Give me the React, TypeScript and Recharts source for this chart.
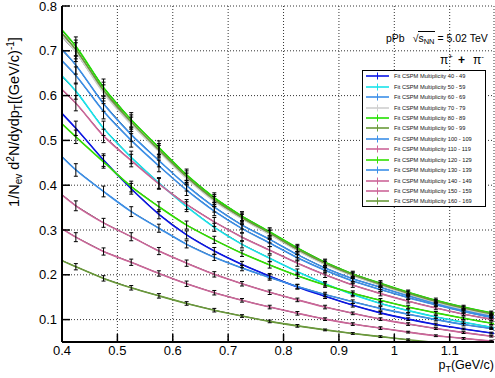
import React from 'react';
import { ComposedChart, Line, XAxis, YAxis, CartesianGrid, ErrorBar, Legend } from 'recharts';

const FONT = '"Liberation Sans", Arial, Helvetica, sans-serif';

// bin centres (GeV/c); first and last lie just outside the drawn range
const pT = [0.375, 0.425, 0.475, 0.525, 0.575, 0.625, 0.675, 0.725, 0.775, 0.825, 0.875, 0.925, 0.975, 1.025, 1.075, 1.125, 1.175, 1.225];

const xMajorTicks = [0.4, 0.5, 0.6, 0.7, 0.8, 0.9, 1.0, 1.1];
const yMajorTicks = [0.1, 0.2, 0.3, 0.4, 0.5, 0.6, 0.7, 0.8];
const xMinorTicks = [0.42, 0.44, 0.46, 0.48, 0.52, 0.54, 0.56, 0.58, 0.62, 0.64, 0.66, 0.68, 0.72, 0.74, 0.76, 0.78, 0.82, 0.84, 0.86, 0.88, 0.92, 0.94, 0.96, 0.98, 1.02, 1.04, 1.06, 1.08, 1.12, 1.14, 1.16];
const yMinorTicks = [0.06, 0.08, 0.12, 0.14, 0.16, 0.18, 0.22, 0.24, 0.26, 0.28, 0.32, 0.34, 0.36, 0.38, 0.42, 0.44, 0.46, 0.48, 0.52, 0.54, 0.56, 0.58, 0.62, 0.64, 0.66, 0.68, 0.72, 0.74, 0.76, 0.78];

const mult40_49 = [0.592, 0.527, 0.456, 0.392, 0.335, 0.289, 0.253, 0.223, 0.197, 0.173, 0.152, 0.132, 0.115, 0.101, 0.089, 0.079, 0.070, 0.062];
const err40_49 = [null, 0.016, 0.014, 0.012, 0.010, 0.009, 0.008, 0.007, 0.006, 0.005, 0.005, 0.004, 0.003, 0.003, 0.003, 0.002, 0.002, null];
const mult50_59 = [0.675, 0.610, 0.527, 0.462, 0.405, 0.352, 0.306, 0.268, 0.237, 0.207, 0.180, 0.156, 0.136, 0.120, 0.106, 0.094, 0.083, 0.074];
const err50_59 = [null, 0.018, 0.016, 0.014, 0.012, 0.011, 0.009, 0.008, 0.007, 0.006, 0.005, 0.005, 0.004, 0.004, 0.003, 0.003, 0.003, null];
const mult60_69 = [0.735, 0.668, 0.582, 0.513, 0.455, 0.399, 0.351, 0.311, 0.279, 0.245, 0.215, 0.191, 0.172, 0.153, 0.136, 0.121, 0.108, 0.097];
const err60_69 = [null, 0.020, 0.017, 0.015, 0.014, 0.012, 0.011, 0.009, 0.008, 0.007, 0.006, 0.006, 0.005, 0.005, 0.004, 0.004, 0.003, null];
const mult70_79 = [0.765, 0.697, 0.606, 0.536, 0.475, 0.415, 0.364, 0.325, 0.290, 0.254, 0.223, 0.198, 0.177, 0.157, 0.139, 0.124, 0.111, 0.100];
const err70_79 = [null, 0.021, 0.018, 0.016, 0.014, 0.012, 0.011, 0.010, 0.009, 0.008, 0.007, 0.006, 0.005, 0.005, 0.004, 0.004, 0.003, null];
const mult80_89 = [0.780, 0.710, 0.618, 0.546, 0.484, 0.423, 0.372, 0.331, 0.296, 0.260, 0.228, 0.202, 0.181, 0.161, 0.143, 0.128, 0.115, 0.104];
const err80_89 = [null, 0.021, 0.019, 0.016, 0.015, 0.013, 0.011, 0.010, 0.009, 0.008, 0.007, 0.006, 0.006, 0.005, 0.005, 0.004, 0.004, null];
const mult90_99 = [0.772, 0.703, 0.612, 0.541, 0.479, 0.419, 0.368, 0.328, 0.293, 0.257, 0.226, 0.200, 0.179, 0.159, 0.141, 0.126, 0.113, 0.102];
const err90_99 = [null, 0.021, 0.018, 0.016, 0.014, 0.013, 0.011, 0.010, 0.009, 0.008, 0.007, 0.006, 0.005, 0.005, 0.004, 0.004, 0.004, null];
const mult100_109 = [0.709, 0.645, 0.565, 0.500, 0.443, 0.389, 0.342, 0.303, 0.271, 0.238, 0.210, 0.186, 0.167, 0.149, 0.133, 0.118, 0.105, 0.094];
const err100_109 = [null, 0.019, 0.017, 0.015, 0.013, 0.012, 0.010, 0.009, 0.008, 0.007, 0.006, 0.006, 0.005, 0.004, 0.004, 0.004, 0.003, null];
const mult110_119 = [0.642, 0.583, 0.510, 0.455, 0.403, 0.357, 0.318, 0.284, 0.255, 0.226, 0.200, 0.177, 0.158, 0.141, 0.126, 0.112, 0.101, 0.091];
const err110_119 = [null, 0.017, 0.015, 0.014, 0.012, 0.011, 0.010, 0.009, 0.008, 0.007, 0.006, 0.005, 0.005, 0.004, 0.004, 0.003, 0.003, null];
const mult120_129 = [0.566, 0.508, 0.452, 0.397, 0.352, 0.311, 0.278, 0.248, 0.222, 0.198, 0.177, 0.159, 0.143, 0.128, 0.115, 0.103, 0.092, 0.083];
const err120_129 = [null, 0.015, 0.014, 0.012, 0.011, 0.009, 0.008, 0.007, 0.007, 0.006, 0.005, 0.005, 0.004, 0.004, 0.003, 0.003, 0.003, null];
const mult130_139 = [0.494, 0.434, 0.386, 0.341, 0.304, 0.268, 0.239, 0.215, 0.194, 0.174, 0.156, 0.140, 0.125, 0.112, 0.100, 0.089, 0.080, 0.072];
const err130_139 = [null, 0.014, 0.012, 0.011, 0.009, 0.008, 0.007, 0.006, 0.006, 0.005, 0.005, 0.004, 0.004, 0.003, 0.003, 0.003, 0.002, null];
const mult140_149 = [0.404, 0.354, 0.316, 0.285, 0.253, 0.226, 0.201, 0.180, 0.161, 0.144, 0.128, 0.114, 0.101, 0.090, 0.080, 0.071, 0.063, 0.056];
const err140_149 = [null, 0.011, 0.010, 0.009, 0.008, 0.007, 0.006, 0.005, 0.005, 0.004, 0.004, 0.003, 0.003, 0.003, 0.002, 0.002, 0.002, null];
const mult150_159 = [0.322, 0.284, 0.252, 0.228, 0.203, 0.180, 0.160, 0.143, 0.128, 0.114, 0.101, 0.090, 0.081, 0.072, 0.064, 0.058, 0.052, 0.047];
const err150_159 = [null, 0.010, 0.008, 0.007, 0.006, 0.006, 0.005, 0.004, 0.004, 0.004, 0.003, 0.003, 0.003, 0.002, 0.002, 0.002, 0.002, null];
const mult160_169 = [0.246, 0.218, 0.192, 0.171, 0.153, 0.136, 0.121, 0.108, 0.096, 0.086, 0.077, 0.069, 0.062, 0.055, null, null, null, null];
const err160_169 = [null, 0.007, 0.006, 0.005, 0.005, 0.004, 0.004, 0.003, 0.003, 0.003, 0.002, 0.002, 0.002, 0.002, null, null, null, null];
const fit160_169_tail = [null, null, null, null, null, null, null, null, null, null, null, null, 0.062, 0.055, 0.049, 0.044, 0.039, 0.035];

const SERIES = [
  { key: 'm40', label: 'Fit CSPM Multiplicity 40 - 49', color: '#0b16e6', values: mult40_49, errors: err40_49 },
  { key: 'm50', label: 'Fit CSPM Multiplicity 50 - 59', color: '#19e3ea', values: mult50_59, errors: err50_59 },
  { key: 'm60', label: 'Fit CSPM Multiplicity 60 - 69', color: '#3b8fe8', values: mult60_69, errors: err60_69 },
  { key: 'm70', label: 'Fit CSPM Multiplicity 70 - 79', color: '#cfcfcf', values: mult70_79, errors: err70_79 },
  { key: 'm80', label: 'Fit CSPM Multiplicity 80 - 89', color: '#22e000', values: mult80_89, errors: err80_89 },
  { key: 'm90', label: 'Fit CSPM Multiplicity 90 - 99', color: '#6a9a3a', values: mult90_99, errors: err90_99 },
  { key: 'm100', label: 'Fit CSPM Multiplicity 100 - 109', color: '#3b8fe8', values: mult100_109, errors: err100_109 },
  { key: 'm110', label: 'Fit CSPM Multiplicity 110 - 119', color: '#cc6699', values: mult110_119, errors: err110_119 },
  { key: 'm120', label: 'Fit CSPM Multiplicity 120 - 129', color: '#33e000', values: mult120_129, errors: err120_129 },
  { key: 'm130', label: 'Fit CSPM Multiplicity 130 - 139', color: '#3b8fe8', values: mult130_139, errors: err130_139 },
  { key: 'm140', label: 'Fit CSPM Multiplicity 140 - 149', color: '#cc6699', values: mult140_149, errors: err140_149 },
  { key: 'm150', label: 'Fit CSPM Multiplicity 150 - 159', color: '#cc6699', values: mult150_159, errors: err150_159 },
  { key: 'm160', label: 'Fit CSPM Multiplicity 160 - 169', color: '#6a9a3a', values: mult160_169, errors: err160_169 },
];

function s160Fit(i: number) {
  return mult160_169[i] != null ? mult160_169[i] : fit160_169_tail[i];
}

const rows = pT.map((x, i) => {
  const r: any = { pT: x };
  SERIES.forEach((s) => {
    r[s.key] = s.values[i];
    r[s.key + '_e'] = s.errors[i];
  });
  r.m160fit = s160Fit(i);
  return r;
});

const YTitle = () => (
  <text transform="rotate(-90, 19, 122)" x={19} y={122} textAnchor="middle" fontFamily={FONT} fontSize={14.5} fill="#000">
    <tspan>1/N</tspan>
    <tspan dy={3} fontSize={10}>ev</tspan>
    <tspan dy={-3}> d</tspan>
    <tspan dy={-5} fontSize={10}>2</tspan>
    <tspan dy={5}>N/dydp</tspan>
    <tspan dy={3} fontSize={10}>T</tspan>
    <tspan dy={-3}>[(GeV/c)</tspan>
    <tspan dy={-5} fontSize={10}>-1</tspan>
    <tspan dy={5}>]</tspan>
  </text>
);

const XTitle = () => (
  <text x={494} y={369} textAnchor="end" fontFamily={FONT} fontSize={12.5} fill="#000">
    <tspan>p</tspan>
    <tspan dy={3} fontSize={9}>T</tspan>
    <tspan dy={-3}>(GeV/c)</tspan>
  </text>
);

const LegendBox = () => (
  <div style={{ width: 124, height: 137, boxSizing: 'border-box', border: '1px solid #000', background: '#fff', fontFamily: FONT, fontSize: 5.7, color: '#111' }}>
    {SERIES.map((s) => (
      <div key={s.key} style={{ display: 'flex', alignItems: 'center', height: 10.45 }}>
        <svg width={26} height={8} style={{ marginLeft: 2, flex: 'none' }}>
          <line x1={1} x2={24} y1={4} y2={4} stroke={s.color} strokeWidth={1.6} />
          <line x1={12.5} x2={12.5} y1={0.5} y2={7.5} stroke={s.color} strokeWidth={1} />
        </svg>
        <span style={{ marginLeft: 3, whiteSpace: 'nowrap' }}>{s.label}</span>
      </div>
    ))}
  </div>
);

const tickStyle = { fill: '#000', fontSize: 13, fontFamily: FONT };

export default function App() {
  return (
    <div style={{ position: 'absolute', left: 0, top: 0, width: 495, height: 378, background: '#fff', fontFamily: FONT, overflow: 'hidden' }}>
      <ComposedChart width={495} height={378} data={rows} margin={{ top: 6, right: 1, bottom: 0, left: 0 }}>
        <CartesianGrid stroke="#333" strokeDasharray="1 2" strokeWidth={1} />
        <XAxis
          dataKey="pT"
          type="number"
          domain={[0.4, 1.18]}
          allowDataOverflow
          ticks={xMajorTicks}
          interval={0}
          height={36}
          tickSize={-8}
          tickMargin={12}
          tick={tickStyle}
          tickFormatter={(v: number) => String(v)}
          axisLine={{ stroke: '#000', strokeWidth: 2 }}
          tickLine={{ stroke: '#000', strokeWidth: 1.5 }}
          label={XTitle}
        />
        <XAxis
          xAxisId="minor"
          dataKey="pT"
          type="number"
          domain={[0.4, 1.18]}
          allowDataOverflow
          ticks={xMinorTicks}
          interval={0}
          mirror
          height={0}
          tickSize={4}
          tickFormatter={() => ''}
          axisLine={false}
          tickLine={{ stroke: '#000', strokeWidth: 1.2 }}
        />
        <YAxis
          type="number"
          domain={[0.05, 0.8]}
          allowDataOverflow
          ticks={yMajorTicks}
          interval={0}
          width={62}
          tickSize={-8}
          tickMargin={13}
          tick={tickStyle}
          tickFormatter={(v: number) => String(v)}
          axisLine={{ stroke: '#000', strokeWidth: 2 }}
          tickLine={{ stroke: '#000', strokeWidth: 1.5 }}
          label={YTitle}
        />
        <YAxis
          yAxisId="minor"
          type="number"
          domain={[0.05, 0.8]}
          allowDataOverflow
          ticks={yMinorTicks}
          interval={0}
          mirror
          width={0}
          tickSize={4}
          tickFormatter={() => ''}
          axisLine={false}
          tickLine={{ stroke: '#000', strokeWidth: 1.2 }}
        />
        <Legend
          layout="vertical"
          align="center"
          verticalAlign="middle"
          content={LegendBox}
          wrapperStyle={{ left: 362, top: 70, width: 124, height: 137 }}
        />
        {SERIES.map((s) => (
          <Line
            key={s.key + '-data'}
            dataKey={s.key}
            type="linear"
            stroke="#000"
            strokeWidth={0.8}
            dot={false}
            activeDot={false}
            legendType="none"
            isAnimationActive={false}
            connectNulls
          />
        ))}
        {SERIES.map((s) => (
          <Line
            key={s.key + '-fit'}
            dataKey={s.key === 'm160' ? 'm160fit' : s.key}
            type="monotone"
            stroke={s.color}
            strokeWidth={1.6}
            dot={false}
            activeDot={false}
            isAnimationActive={false}
            connectNulls
          />
        ))}
        {SERIES.map((s) => (
          <Line
            key={s.key + '-err'}
            dataKey={s.key}
            type="linear"
            stroke="none"
            dot={false}
            activeDot={false}
            legendType="none"
            isAnimationActive={false}
          >
            <ErrorBar dataKey={s.key + '_e'} direction="y" width={2} stroke="#000" strokeWidth={1} />
          </Line>
        ))}
      </ComposedChart>
      <div style={{ position: 'absolute', left: 386, top: 31, fontSize: 10.5, color: '#000', whiteSpace: 'nowrap', lineHeight: '14px' }}>
        <span>pPb</span>
        <span style={{ marginLeft: 8 }}>√</span>
        <span style={{ borderTop: '1px solid #000' }}>s<sub style={{ fontSize: 7.5, verticalAlign: '-2px' }}>NN</sub></span>
        <span> = 5.02 TeV</span>
      </div>
      <div style={{ position: 'absolute', left: 440, top: 50, fontSize: 12, color: '#000', whiteSpace: 'nowrap', lineHeight: '14px' }}>
        <span>π</span>
        <sup style={{ fontSize: 8, verticalAlign: '5px' }}>+</sup>
        <span style={{ fontWeight: 'bold', margin: '0 8px 0 5px' }}>+</span>
        <span>π</span>
        <sup style={{ fontSize: 8, verticalAlign: '5px' }}>-</sup>
      </div>
    </div>
  );
}
